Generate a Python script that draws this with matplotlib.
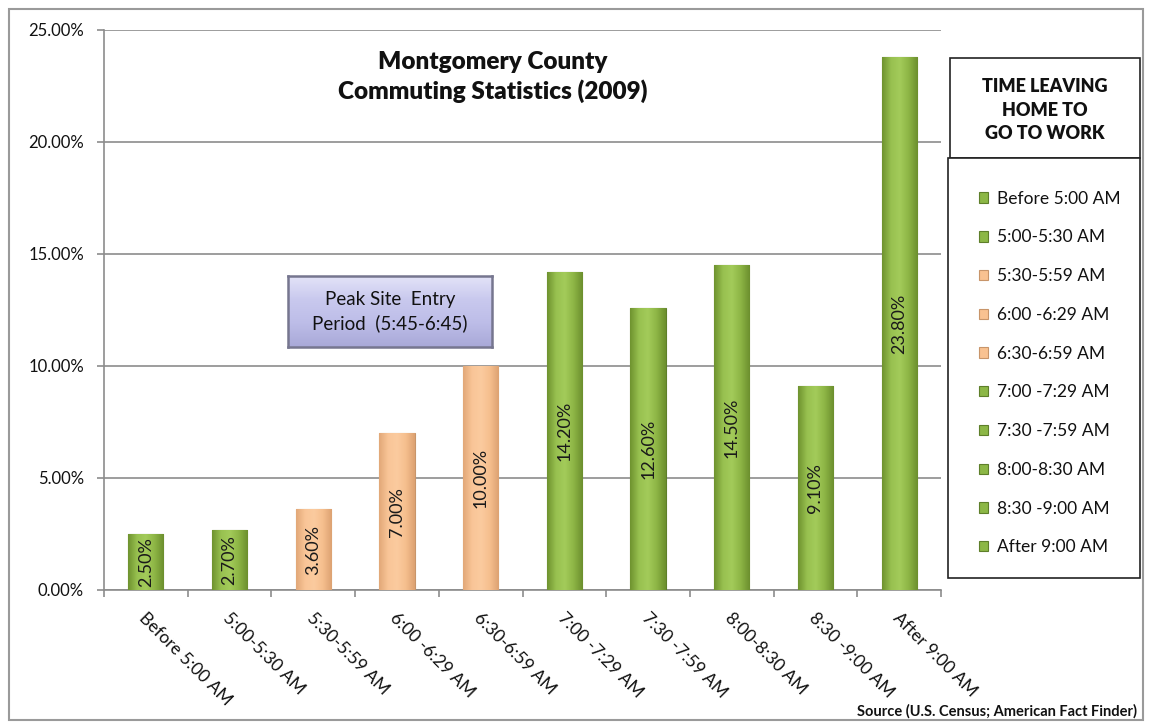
import matplotlib
matplotlib.use("Agg")
import numpy as np
import matplotlib.pyplot as plt
from matplotlib.patches import Rectangle
from matplotlib.colors import LinearSegmentedColormap
from matplotlib.ticker import FuncFormatter, MultipleLocator

plt.rcParams['font.family'] = ['Lato', 'DejaVu Sans']

categories = ["Before 5:00 AM", "5:00-5:30 AM", "5:30-5:59 AM", "6:00 -6:29 AM",
              "6:30-6:59 AM", "7:00 -7:29 AM", "7:30 -7:59 AM", "8:00-8:30 AM",
              "8:30 -9:00 AM", "After 9:00 AM"]
values = [2.5, 2.7, 3.6, 7.0, 10.0, 14.2, 12.6, 14.5, 9.1, 23.8]
peak = [False, False, True, True, True, False, False, False, False, False]

green, green_edge = "#8CB746", "#5E7F2A"
orange, orange_edge = "#F9C291", "#C8956A"
green_cmap = LinearSegmentedColormap.from_list("g", ["#6F932F", "#98C150", "#A3CB5A", "#8DB545", "#6C8F2E"])
orange_cmap = LinearSegmentedColormap.from_list("o", ["#E2A878", "#F9C597", "#FBCB9F", "#F6BF8E", "#DDA272"])

W, H = 1149, 726
fig = plt.figure(figsize=(W/100, H/100), dpi=100)

# outer border
fig.patches.append(Rectangle((9/W, 1-720/H), (1143-9)/W, (720-9)/H, transform=fig.transFigure,
                             fill=False, edgecolor="#9a9a9a", linewidth=1.5))

ax = fig.add_axes([104/W, 1-590/H, (941-104)/W, (590-30)/H])
grad = np.linspace(0, 1, 64).reshape(1, -1)
bars = []
for i, (v, p) in enumerate(zip(values, peak)):
    b = ax.bar(i, v, width=0.42, color=orange if p else green,
               edgecolor=orange_edge if p else green_edge, linewidth=0.8, zorder=3,
               label=categories[i])[0]
    bars.append(b)
    x0, y0, w, h = b.get_x(), b.get_y(), b.get_width(), b.get_height()
    im = ax.imshow(grad, extent=(x0, x0 + w, y0, y0 + h), aspect="auto",
                   cmap=orange_cmap if p else green_cmap, zorder=3.2, interpolation="bicubic")
    im.set_clip_path(b)
    ax.text(i, v/2, f"{v:.2f}%", rotation=90, ha="center", va="center",
            fontsize=13, color="#1a1a1a", zorder=4)

ax.set_xlim(-0.5, len(categories)-0.5)
ax.set_ylim(0, 25)
ax.yaxis.set_major_locator(MultipleLocator(5))
ax.yaxis.set_major_formatter(FuncFormatter(lambda v, _: f"{v:.2f}%"))
ax.grid(axis="y", color="#8c8c8c", linewidth=1.2, zorder=0)
ax.set_axisbelow(True)
for s in ["top", "right"]:
    ax.spines[s].set_visible(False)
for s in ["left", "bottom"]:
    ax.spines[s].set_color("#8c8c8c")
    ax.spines[s].set_linewidth(1.2)
ax.set_xticks([i - 0.5 for i in range(len(categories)+1)])
ax.set_xticklabels([])
ax.tick_params(axis="x", length=5, color="#8c8c8c", width=1.2)
ax.tick_params(axis="y", length=5, color="#8c8c8c", width=1.2, labelsize=12, pad=9.5,
               labelcolor="#111111")
for i, c in enumerate(categories):
    ax.text(i + 0.02, -0.9, c, rotation=-45, ha="left", va="top", rotation_mode="anchor",
            fontsize=12.5, color="#111111")

# title
fig.text(493/W, 1-77/H, "Montgomery County\nCommuting Statistics (2009)", ha="center",
         va="center", fontsize=17.5, fontweight="heavy", linespacing=1.35, color="#111111")

# peak box with vertical gradient
bx = fig.add_axes([288/W, 1-347/H, (492-288)/W, (347-276)/H])
vgrad = np.linspace(0, 1, 64).reshape(-1, 1)
box_cmap = LinearSegmentedColormap.from_list("b", ["#E4E4F8", "#C9C9EE", "#BDBDE8", "#A9A9D8"])
bx.imshow(vgrad, extent=(0, 1, 0, 1), aspect="auto", cmap=box_cmap, interpolation="bicubic")
bx.set_xticks([]); bx.set_yticks([])
for s in bx.spines.values():
    s.set_color("#76768F"); s.set_linewidth(1.8)
bx.text(0.5, 0.5, "Peak Site  Entry\nPeriod  (5:45-6:45)", ha="center", va="center",
        fontsize=13.5, linespacing=1.4, transform=bx.transAxes, color="#111111")

# legend title box
fig.patches.append(Rectangle((950/W, 1-158/H), (1140-950)/W, (158-58)/H,
                             transform=fig.transFigure, facecolor="white",
                             edgecolor="#222222", linewidth=1.2, zorder=5))
fig.text(1045/W, 1-110/H, "TIME LEAVING\nHOME TO\nGO TO WORK", ha="center", va="center",
         fontsize=13, fontweight="heavy", linespacing=1.45, zorder=6, color="#111111")
fig.patches.append(Rectangle((948/W, 1-578/H), (1140-948)/W, (578-158)/H,
                             transform=fig.transFigure, facecolor="white",
                             edgecolor="#222222", linewidth=1.2, zorder=5))
leg = fig.legend(handles=bars, labels=categories, loc="upper left",
                 bbox_to_anchor=(970/W, 1-182/H), frameon=False, fontsize=12.5,
                 handlelength=0.55, handleheight=0.55, handletextpad=0.5,
                 labelspacing=1.31, borderpad=0)
leg.set_zorder(7)
for t in leg.get_texts():
    t.set_color("#111111")

fig.text(1137/W, 1-711/H, "Source (U.S. Census; American Fact Finder)", ha="right",
         va="center", fontsize=10.5, fontweight="bold", color="#111111")

fig.savefig("out.png", dpi=100)
